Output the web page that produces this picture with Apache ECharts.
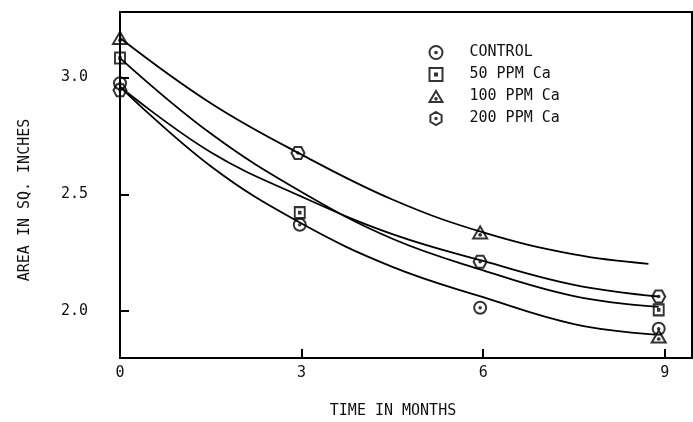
<!DOCTYPE html>
<html>
<head>
<meta charset="utf-8">
<script src="https://cdn.jsdelivr.net/npm/echarts@6/dist/echarts.min.js"></script>
<style>
html,body{margin:0;padding:0;background:#fff;}
#chart{width:693px;height:422px;}
</style>
</head>
<body>
<div id="chart"></div>
<script>
// ---- data ----
var xTicks = [0, 3, 6, 9];
var yTicks = [2.0, 2.5, 3.0];
var seriesNames = ['CONTROL', '50 PPM Ca', '100 PPM Ca', '200 PPM Ca'];

// measured points (months, area)
var controlPts = [[0, 2.975], [2.97, 2.37], [5.95, 2.015], [8.9, 1.925]];
var ppm50Pts   = [[0, 3.083], [2.97, 2.422], [8.9, 2.006]];
var ppm100Pts  = [[0, 3.169], [5.95, 2.337], [8.9, 1.892]];
var ppm200Pts  = [[0, 2.945], [2.94, 2.677], [5.95, 2.212], [8.9, 2.063]];

// fitted curves
var curveTop    = [[0, 3.169], [1.5, 2.89], [3, 2.67], [4.5, 2.478], [6, 2.337], [7.5, 2.243], [8.73, 2.203]];
var curveHex    = [[0, 2.96], [1.5, 2.68], [3, 2.49], [4.5, 2.33], [6, 2.215], [7.5, 2.113], [8.9, 2.063]];
var curveSquare = [[0, 3.083], [1.5, 2.76], [3, 2.51], [4.5, 2.31], [6, 2.175], [7.5, 2.065], [8.9, 2.019]];
var curveCtrl   = [[0, 2.96], [1.5, 2.62], [3, 2.375], [4.5, 2.19], [6, 2.06], [7.5, 1.945], [8.84, 1.90]];

// ---- symbols ----
var dot = 'M0,-1.3A1.3,1.3,0,1,1,0,1.3A1.3,1.3,0,1,1,0,-1.3Z';
var symCircle = 'path://M0,-10A10,10,0,1,1,0,10A10,10,0,1,1,0,-10Z' + dot;
var symSquare = 'path://M-10,-10L10,-10L10,10L-10,10Z' + 'M-1.6,-1.6L1.6,-1.6L1.6,1.6L-1.6,1.6Z';
var symTri = 'path://M0,-11L11,8L-11,8Z' + 'M0,1A1.4,1.4,0,1,1,0,3.8A1.4,1.4,0,1,1,0,1Z';
var symHexFlat = 'path://M-5.5,-9.5L5.5,-9.5L11,0L5.5,9.5L-5.5,9.5L-11,0Z' + dot;
var symHexPoint = 'path://M0,-11L9.5,-5.5L9.5,5.5L0,11L-9.5,5.5L-9.5,-5.5Z' + dot;

var FONT = 'DejaVu Sans Mono';
var INK = '#111';

var markerStyle = {color: 'rgba(255,255,255,0)', borderColor: '#000', borderWidth: 2};

function markers(name, data, sym, size) {
  return {
    type: 'scatter', name: name, data: data, symbol: sym, symbolSize: size,
    itemStyle: markerStyle, z: 5, silent: true, clip: false
  };
}
function curve(data) {
  return {
    type: 'line', data: data, smooth: 0.4, symbol: 'none', silent: true,
    lineStyle: {color: '#000', width: 1.8}, z: 3, clip: false
  };
}

var chart = echarts.init(document.getElementById('chart'), null, {renderer: 'canvas'});
chart.setOption({
  animation: false,
  backgroundColor: '#fff',
  grid: {
    left: 120, right: 1, top: 12, bottom: 64, containLabel: false, outerBoundsMode: 'none',
    show: true, borderColor: '#000', borderWidth: 2, backgroundColor: 'transparent'
  },
  xAxis: {
    type: 'value', min: 0, max: 9.45,
    axisLine: {show: true, lineStyle: {color: '#000', width: 2}},
    axisTick: {show: true, inside: true, length: 9, lineStyle: {color: '#000', width: 2}, customValues: xTicks},
    axisLabel: {color: INK, fontFamily: FONT, fontSize: 15, margin: 8, customValues: xTicks},
    splitLine: {show: false}
  },
  yAxis: {
    type: 'value', min: 1.8, max: 3.28,
    axisLine: {show: true, lineStyle: {color: '#000', width: 2}},
    axisTick: {show: true, inside: true, length: 9, lineStyle: {color: '#000', width: 2}, customValues: yTicks},
    axisLabel: {color: INK, fontFamily: FONT, fontSize: 15, margin: 32, customValues: yTicks,
      formatter: function (v) { return v.toFixed(1); }},
    splitLine: {show: false}
  },
  legend: {
    orient: 'vertical', left: 428.5, top: 45, padding: 0,
    itemWidth: 13, itemHeight: 13, itemGap: 7,
    textStyle: {color: INK, fontFamily: FONT, fontSize: 15, lineHeight: 14, padding: [0, 0, 0, 22]},
    data: [
      {name: seriesNames[0], icon: symCircle},
      {name: seriesNames[1], icon: symSquare},
      {name: seriesNames[2], icon: symTri},
      {name: seriesNames[3], icon: symHexPoint}
    ],
    selectedMode: false
  },
  graphic: [
    {type: 'text', x: 25, y: 200, rotation: Math.PI / 2,
      style: {text: 'AREA IN SQ. INCHES', fill: INK, font: '15px "DejaVu Sans Mono"', align: 'center', verticalAlign: 'middle'}},
    {type: 'text', x: 393, y: 411,
      style: {text: 'TIME IN MONTHS', fill: INK, font: '15px "DejaVu Sans Mono"', align: 'center', verticalAlign: 'middle'}}
  ],
  series: [
    curve(curveTop), curve(curveHex), curve(curveSquare), curve(curveCtrl),
    markers(seriesNames[0], controlPts, symCircle, [12, 12]),
    markers(seriesNames[1], ppm50Pts, symSquare, [10, 11]),
    markers(seriesNames[2], ppm100Pts, symTri, [14, 12]),
    markers(seriesNames[3], ppm200Pts, symHexFlat, [13, 12])
  ]
});
</script>
</body>
</html>
